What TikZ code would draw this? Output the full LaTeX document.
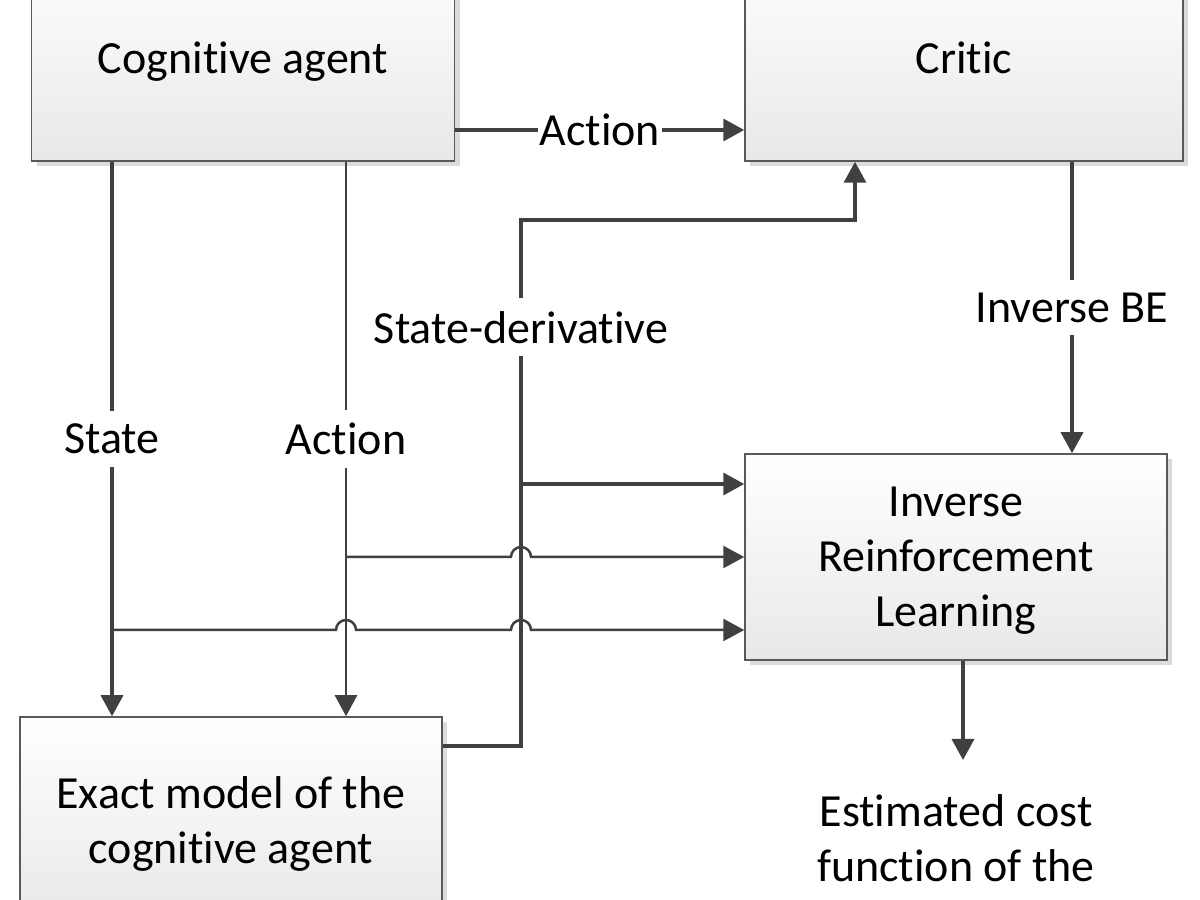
\documentclass[tikz,border=0pt]{standalone}
\usepackage{fontspec}
\setmainfont[Ligatures=NoCommon]{Carlito}
\usetikzlibrary{arrows.meta,shadows}
\tikzset{x=1pt,y=1pt,>={Triangle[length=21pt,width=22pt]},
  every node/.style={font=\fontsize{46}{55}\selectfont},
  box/.style={draw=black!65,line width=1.5pt,top color=white,bottom color=black!9,
    minimum width=422pt,minimum height=206pt,align=center,text depth=0pt,
    drop shadow={shadow xshift=5pt,shadow yshift=-5pt,fill=black!14,opacity=1}},
  lbl/.style={fill=white,inner xsep=2pt,inner ysep=13pt},
  wire/.style={draw=black!75,line width=3.5pt},
  wirethin/.style={draw=black!75,line width=2.5pt}}

\begin{document}
\begin{tikzpicture}
              \clip (0,0) rectangle (1200,900);
              \node[box,minimum width=423pt] (cog) at (243,842) {Cognitive agent};
              \node[box,minimum width=438pt] (critic) at (964,842) {Critic};
              \node[box] (irl) at (956,343) {Inverse\\Reinforcement\\Learning};
              \node[box] (model) at (231,80) {Exact model of the\\cognitive agent};
              \node[align=center] (est) at (956,62) {Estimated cost\\function of the};

              \coordinate (xs) at (112,0);
              \coordinate (xa) at (346,0);
              \coordinate (ha) at (336,0);
              \coordinate (xd) at (521,0);
              \coordinate (hd) at (511,0);
              \coordinate (xc) at (855,0);
              \coordinate (xo) at (963,0);
              \coordinate (xb) at (1072,0);
              \coordinate (yd) at (0,680);
              \coordinate (in1) at ([yshift=73pt]irl.west);
              \coordinate (in3) at ([yshift=-73pt]irl.west);
              \coordinate (out) at (963,140);

              \draw[wire,->] ([yshift=-72pt]cog.east) -- node[lbl]{Action} ([yshift=-72pt]critic.west);
              \draw[wire,->] (xs |- cog.south) -- node[lbl]{State} (xs |- model.north);
              \draw[wirethin,->] (xa |- cog.south) -- node[lbl]{Action} (xa |- model.north);
              \draw[wire,->] (xb |- critic.south) -- node[lbl]{Inverse BE} (xb |- irl.north);
              \draw[wire,->] ([yshift=74pt]model.east) -| node[lbl,pos=0.898]{State-derivative} (xd |- yd)
                -| (xc |- critic.south);
              \draw[wire,->] (xd |- in1) -- (in1);
              \draw[wirethin,->] (xa |- irl.west) -- (hd |- irl.west)
                arc[start angle=180,end angle=0,radius=10pt] -- (irl.west);
              \draw[wirethin,->] (xs |- in3) -- (ha |- in3)
                arc[start angle=180,end angle=0,radius=10pt] -- (hd |- in3)
                arc[start angle=180,end angle=0,radius=10pt] -- (in3);
              \draw[wire,->] (xo |- irl.south) -- (out);
            \end{tikzpicture}
\end{document}
